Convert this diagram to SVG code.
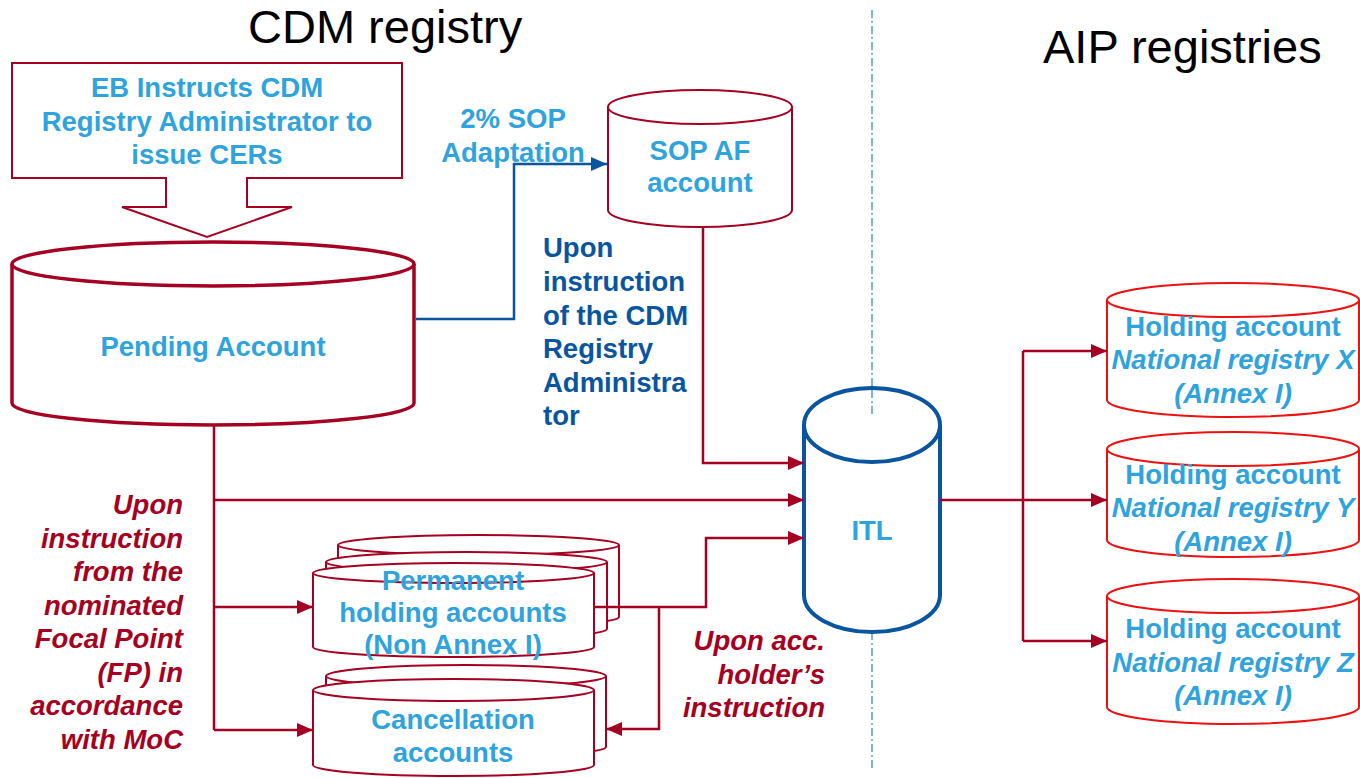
<svg xmlns="http://www.w3.org/2000/svg" width="1360" height="778" viewBox="0 0 1360 778">
  <style>
    .title { font-family: "Liberation Sans", Arial, sans-serif; font-size: 47px; fill: #000; }
    .lbl { font-family: "Liberation Sans", Arial, sans-serif; font-size: 27.5px; font-weight: bold; fill: #2EA3DD; text-anchor: middle; }
    .it { font-style: italic; }
    .note-blue { font-family: "Liberation Sans", Arial, sans-serif; font-size: 27.5px; font-weight: bold; fill: #0A55A0; }
    .note-red { font-family: "Liberation Sans", Arial, sans-serif; font-size: 27.5px; font-weight: bold; font-style: italic; fill: #A50021; text-anchor: end; }
    .cyl-red { fill: #fff; stroke: #A50021; stroke-width: 2; }
    .cyl-thick { fill: #fff; stroke: #A50021; stroke-width: 3.5; }
    .cyl-blue { fill: #fff; stroke: #0A55A0; stroke-width: 4; }
    .cyl-aip { fill: #fff; stroke: #EE1111; stroke-width: 2; }
    .wire { fill: none; stroke: #A50021; stroke-width: 2.5; }
    .wire-blue { fill: none; stroke: #0A55A0; stroke-width: 2.5; }
    .divider { fill: none; stroke: #7DB6E3; stroke-width: 2; stroke-dasharray: 8 3 2 3; }
  </style>
  <defs>
    <marker id="ah-red" markerUnits="userSpaceOnUse" markerWidth="16" markerHeight="16" viewBox="0 0 16 16" refX="16" refY="8" orient="auto">
      <path d="M0,1 L16,8 L0,15 Z" fill="#A50021"/>
    </marker>
    <marker id="ah-blue" markerUnits="userSpaceOnUse" markerWidth="16" markerHeight="16" viewBox="0 0 16 16" refX="16" refY="8" orient="auto">
      <path d="M0,1 L16,8 L0,15 Z" fill="#0A55A0"/>
    </marker>
  </defs>

  <rect width="1360" height="778" fill="#fff"/>

  <!-- registry titles and divider -->
  <text class="title" x="248" y="43">CDM registry</text>
  <text class="title" x="1043" y="63">AIP registries</text>
  <line class="divider" x1="872" y1="10" x2="872" y2="415"/>
  <line class="divider" x1="872" y1="632" x2="872" y2="770"/>

  <!-- EB instruction callout -->
  <g id="eb-instruction">
    <path d="M12,63 H402 V178 H247 V207 H292 L207,237 L122,207 H166 V178 H12 Z" fill="#fff" stroke="#A50021" stroke-width="2"/>
    <text class="lbl" x="207" y="97">EB Instructs CDM</text>
    <text class="lbl" x="207" y="131">Registry Administrator to</text>
    <text class="lbl" x="207" y="164">issue CERs</text>
  </g>

  <!-- Pending Account -->
  <g id="pending-account">
    <path class="cyl-thick" d="M12,264 V403 A201,22 0 0 0 414,403 V264"/>
    <ellipse class="cyl-thick" cx="213" cy="264" rx="201" ry="22"/>
    <text class="lbl" x="213" y="356">Pending Account</text>
  </g>

  <!-- SOP AF account -->
  <g id="sop-af-account">
    <path class="cyl-red" d="M608,107 V210 A92,17 0 0 0 792,210 V107"/>
    <ellipse class="cyl-red" cx="700" cy="107" rx="92" ry="17"/>
    <text class="lbl" x="700" y="160">SOP AF</text>
    <text class="lbl" x="700" y="192">account</text>
  </g>

  <g id="sop-label">
    <text class="lbl" x="513" y="128">2% SOP</text>
    <text class="lbl" x="513" y="162">Adaptation</text>
  </g>

  <g id="cdm-admin-note">
    <text class="note-blue" x="543" y="257">Upon</text>
    <text class="note-blue" x="543" y="291">instruction</text>
    <text class="note-blue" x="543" y="325">of the CDM</text>
    <text class="note-blue" x="543" y="358">Registry</text>
    <text class="note-blue" x="543" y="392">Administra</text>
    <text class="note-blue" x="543" y="425">tor</text>
  </g>

  <g id="focal-point-note">
    <text class="note-red" x="183" y="514">Upon</text>
    <text class="note-red" x="183" y="548">instruction</text>
    <text class="note-red" x="183" y="581">from the</text>
    <text class="note-red" x="183" y="615">nominated</text>
    <text class="note-red" x="183" y="648">Focal Point</text>
    <text class="note-red" x="183" y="682">(FP) in</text>
    <text class="note-red" x="183" y="715">accordance</text>
    <text class="note-red" x="183" y="749">with MoC</text>
  </g>

  <g id="holder-note">
    <text class="note-red" x="825" y="650">Upon acc.</text>
    <text class="note-red" x="825" y="684">holder’s</text>
    <text class="note-red" x="825" y="717">instruction</text>
  </g>

  <!-- Permanent holding accounts (stack) -->
  <g id="permanent-holding">
    <path class="cyl-red" d="M338,545 V617 A140.5,10 0 0 0 619,617 V545"/>
    <ellipse class="cyl-red" cx="478.5" cy="545" rx="140.5" ry="10"/>
    <path class="cyl-red" d="M326,562 V629 A140.5,10 0 0 0 607,629 V562"/>
    <ellipse class="cyl-red" cx="466.5" cy="562" rx="140.5" ry="10"/>
    <path class="cyl-red" d="M313,573 V647 A140.5,10 0 0 0 594,647 V573"/>
    <ellipse class="cyl-red" cx="453.5" cy="573" rx="140.5" ry="10"/>
    <text class="lbl" x="453" y="590">Permanent</text>
    <text class="lbl" x="453" y="622">holding accounts</text>
    <text class="lbl" x="453" y="654">(Non Annex I)</text>
  </g>

  <!-- Cancellation accounts (stack) -->
  <g id="cancellation">
    <path class="cyl-red" d="M326,676 V747 A140,10 0 0 0 606,747 V676"/>
    <ellipse class="cyl-red" cx="466" cy="676" rx="140" ry="11"/>
    <path class="cyl-red" d="M313,690 V765 A140.5,11 0 0 0 594,765 V690"/>
    <ellipse class="cyl-red" cx="453.5" cy="690" rx="140.5" ry="11"/>
    <text class="lbl" x="453" y="729">Cancellation</text>
    <text class="lbl" x="453" y="762">accounts</text>
  </g>

  <!-- ITL -->
  <g id="itl">
    <path class="cyl-blue" d="M804,425 V595 A68,37 0 0 0 940,595 V425"/>
    <ellipse class="cyl-blue" cx="872" cy="425" rx="68" ry="37"/>
    <text class="lbl" x="872" y="540">ITL</text>
  </g>
  <line class="divider" x1="872" y1="390" x2="872" y2="415"/>

  <!-- AIP national registries -->
  <g id="registry-x">
    <path class="cyl-aip" d="M1107,300 V400 A126,17 0 0 0 1359,400 V300"/>
    <ellipse class="cyl-aip" cx="1233" cy="300" rx="126" ry="17"/>
    <text class="lbl" x="1233" y="336">Holding account</text>
    <text class="lbl it" x="1233" y="369">National registry X</text>
    <text class="lbl it" x="1233" y="403">(Annex I)</text>
  </g>
  <g id="registry-y">
    <path class="cyl-aip" d="M1107,449 V540 A126,17 0 0 0 1359,540 V449"/>
    <ellipse class="cyl-aip" cx="1233" cy="449" rx="126" ry="17"/>
    <text class="lbl" x="1233" y="484">Holding account</text>
    <text class="lbl it" x="1233" y="517">National registry Y</text>
    <text class="lbl it" x="1233" y="551">(Annex I)</text>
  </g>
  <g id="registry-z">
    <path class="cyl-aip" d="M1107,596 V707 A126,17 0 0 0 1359,707 V596"/>
    <ellipse class="cyl-aip" cx="1233" cy="596" rx="126" ry="17"/>
    <text class="lbl" x="1233" y="638">Holding account</text>
    <text class="lbl it" x="1233" y="672">National registry Z</text>
    <text class="lbl it" x="1233" y="705">(Annex I)</text>
  </g>

  <!-- connectors (drawn last so they sit over the account stack) -->
  <g id="connectors">
    <path class="wire-blue" d="M416,319 H514 V164 H607" marker-end="url(#ah-blue)"/>
    <path class="wire" d="M703,227 V463 H804" marker-end="url(#ah-red)"/>
    <path class="wire" d="M214,425 V730"/>
    <path class="wire" d="M214,500 H804" marker-end="url(#ah-red)"/>
    <path class="wire" d="M214,607 H313" marker-end="url(#ah-red)"/>
    <path class="wire" d="M214,730 H313" marker-end="url(#ah-red)"/>
    <path class="wire" d="M594,607 H706 V538 H804" marker-end="url(#ah-red)"/>
    <path class="wire" d="M659,607 V729 H606" marker-end="url(#ah-red)"/>
    <path class="wire" d="M940,500 H1023"/>
    <path class="wire" d="M1023,351 V641"/>
    <path class="wire" d="M1023,351 H1107" marker-end="url(#ah-red)"/>
    <path class="wire" d="M1023,500 H1107" marker-end="url(#ah-red)"/>
    <path class="wire" d="M1023,641 H1107" marker-end="url(#ah-red)"/>
  </g>
</svg>
